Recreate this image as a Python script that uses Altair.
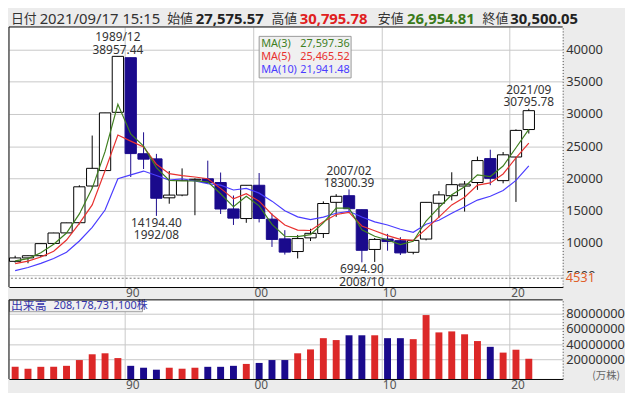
import altair as alt
import pandas as pd

# ---------------- data ----------------
years = list(range(1981, 2022))
opens = [7150, 7681, 8021, 9927, 11558, 13136, 18821, 21217, 30244, 38713,
         23827, 23030, 16994, 17421, 19724, 19945, 19364, 15268, 13779, 18937,
         13691, 10631, 8669, 10787, 11458, 16294, 17322, 15156, 8991, 10609,
         10352, 8549, 10604, 16148, 17325, 18818, 19364, 23074, 19656, 23319, 27575.57]
highs = [8019, 8026, 9893, 11577, 13129, 18936, 26646, 30159, 38957.44, 38713,
         27146, 23801, 21148, 21552, 20011, 22750, 20910, 17352, 18934, 20833,
         14556, 11979, 11238, 12195, 16445, 17563, 18300.39, 15156, 10767, 11408,
         10891, 10433, 16320, 18030, 20953, 19593, 23383, 24448, 24092, 27603, 30795.78]
lows = [6957, 6849, 7803, 9703, 11545, 12881, 18544, 21217, 30183, 20222,
        21456, 14194.40, 16078, 17242, 14295, 19161, 14488, 12787, 13122, 13182,
        9382, 8197, 7603, 10299, 10770, 14045, 14669, 6994.90, 7055, 8796,
        8136, 8238, 10399, 13885, 16593, 14864, 18225, 18949, 19241, 16358, 26954.81]
closes = [7681, 8016, 9893, 11542, 13113, 18701, 21564, 30159, 38916, 23848,
          22984, 16925, 17417, 19723, 19868, 19361, 15259, 13842, 18934, 13786,
          10543, 8579, 10677, 11489, 16111, 17226, 15308, 8860, 10546, 10229,
          8455, 10395, 16291, 17451, 19034, 19114, 22765, 20015, 23657, 27444, 30500.05]
ma3 = [7230, 7580, 8470, 9810, 11530, 14500, 18465, 24150, 31480, 26880,
       24995, 21680, 19700, 19600, 19600, 19460, 17620, 15600, 17230, 15750,
       12870, 11040, 10990, 11290, 13120, 15390, 15390, 12040, 11040, 10450,
       9750, 10250, 13400, 15500, 17470, 18720, 20540, 20290, 21920, 24750, 27597.36]
ma5 = [6800, 7180, 7820, 8710, 10450, 13020, 15900, 21180, 26730, 25784,
       24890, 22200, 20740, 20440, 20220, 19950, 18460, 16830, 17620, 16480,
       14410, 12780, 12000, 11930, 13270, 14410, 14750, 12630, 11890, 11140,
       10550, 10400, 12180, 14010, 15890, 17080, 18960, 19310, 20690, 23170, 25465.52]
ma10 = [5700, 6190, 6840, 7580, 8565, 10300, 12420, 15100, 19950, 20540,
        21140, 20450, 19750, 19950, 19600, 19200, 18960, 18210, 18460, 17720,
        16480, 15000, 14050, 13610, 14010, 14600, 14900, 14010, 13270, 12780,
        12130, 11640, 12900, 13520, 14600, 15600, 16640, 17230, 18120, 19700, 21941.48]
# volume in millions of axis units (万株)
volumes = [10.2, 7.7, 10.2, 10.2, 11.5, 19.1, 26.7, 28.0, 21.7, 11.5,
           9.0, 6.4, 9.0, 7.7, 9.0, 10.2, 10.2, 11.5, 14.0, 15.3,
           19.1, 19.1, 28.0, 33.1, 47.9, 45.4, 51.7, 51.7, 51.7, 47.9,
           47.9, 46.6, 78.3, 55.5, 56.8, 53.0, 44.1, 36.5, 28.9, 32.7, 20.8]

header_date = "2021/09/17 15:15"
vol_total = 208178731100
floor_value = 4531
high_marks = [(1989, "1989/12"), (2007, "2007/02"), (2021, "2021/09")]
low_marks = [(1992, "1992/08"), (2008, "2008/10")]
ma_names = ["MA(3)", "MA(5)", "MA(10)"]

# ---------------- styling ----------------
W, HM, HV = 560, 263, 80
XMIN, XMAX = 1981.0, 2024.12
YMIN, YMAX = 3170, 43470
VMIN, VMAX = -5.8e6, 98.3e6
GRID = "#c8c8c8"
NAVY = "#1a0a8c"
RED = "#dc2828"
BG = "#ececec"
C3, C5, C10 = "#3f7f1f", "#e8312f", "#4a3cff"
FONT = "Noto Sans, Noto Sans CJK JP, sans-serif"
JFONT = "Noto Sans CJK JP, Noto Sans, sans-serif"

df = pd.DataFrame({"year": years, "open": opens, "high": highs, "low": lows,
                   "close": closes, "ma3": ma3, "ma5": ma5, "ma10": ma10,
                   "vol": [v * 1e6 for v in volumes]})
df["dir"] = ["up" if c >= o else "down" for o, c in zip(opens, closes)]
df["c"] = df["year"] + 0.48
df["x1"] = df["year"] + 0.04
df["x2"] = df["year"] + 0.92
df["v1"] = df["c"] - 0.27
df["v2"] = df["c"] + 0.27

tops = pd.DataFrame({
    "c": [y + 0.48 for y, _ in high_marks],
    "v": [highs[years.index(y)] for y, _ in high_marks],
    "date": [d for _, d in high_marks],
})
tops["val"] = [f"{v:.2f}" for v in tops["v"]]
bots = pd.DataFrame({
    "c": [y + 0.48 for y, _ in low_marks],
    "v": [lows[years.index(y)] for y, _ in low_marks],
    "date": [d for _, d in low_marks],
})
bots["val"] = [f"{v:.2f}" for v in bots["v"]]
floor_df = pd.DataFrame({"v": [floor_value], "top": [5350]})
one = pd.DataFrame({"k": [0]})

xs = alt.Scale(domain=[XMIN, XMAX], nice=False, zero=False)
ys = alt.Scale(domain=[YMIN, YMAX], nice=False, zero=False)
vs = alt.Scale(domain=[VMIN, VMAX], nice=False, zero=False)

x_axis = alt.Axis(values=[1990, 2000, 2010, 2020],
                  labelExpr="substring(toString(datum.value), 2, 4)",
                  grid=True, gridColor=GRID, gridWidth=1, ticks=False, tickSize=0,
                  labelAlign="left", labelBaseline="top", labelOffset=1, labelPadding=1,
                  labelFontSize=12, labelColor="#555", labelFont=FONT,
                  domainColor="#000", domainWidth=1, labelFlush=False)
y_axis = alt.Axis(orient="right", values=list(range(5000, 40001, 5000)), format="d",
                  grid=True, gridColor=GRID, gridWidth=1, ticks=False, tickSize=0,
                  labelAlign="left", labelPadding=3, labelFontSize=13,
                  labelColor="#333", labelFont=FONT, domainDash=[1, 2],
                  domainColor="#444", labelFlush=False, labelOverlap=False)
v_axis = alt.Axis(orient="right", values=[2e7, 4e7, 6e7, 8e7], format="d",
                  grid=True, gridColor=GRID, gridWidth=1, ticks=False, tickSize=0,
                  labelAlign="left", labelPadding=3, labelFontSize=13,
                  labelColor="#333", labelFont=FONT, domainDash=[1, 2],
                  domainColor="#444", labelFlush=False, labelOverlap=False)


def X(f):
    return alt.X(f, type="quantitative", scale=xs, axis=x_axis, title=None)


def Y(f):
    return alt.Y(f, type="quantitative", scale=ys, axis=y_axis, title=None)


def VY(f):
    return alt.Y(f, type="quantitative", scale=vs, axis=v_axis, title=None)


dir_dom = ["up", "down"]
base = alt.Chart(df)

wicks = base.mark_rule(strokeWidth=1).encode(
    x=X("c"), y=Y("low"), y2="high",
    color=alt.Color("dir:N", scale=alt.Scale(domain=dir_dom, range=["#000000", NAVY]), legend=None))
bodies = base.mark_rect(strokeWidth=1).encode(
    x=X("x1"), x2="x2", y=Y("open"), y2="close",
    fill=alt.Fill("dir:N", scale=alt.Scale(domain=dir_dom, range=["#ffffff", NAVY]), legend=None),
    stroke=alt.Stroke("dir:N", scale=alt.Scale(domain=dir_dom, range=["#000000", NAVY]), legend=None))
l10 = base.mark_line(strokeWidth=1.2, color=C10).encode(x=X("c"), y=Y("ma10"))
l5 = base.mark_line(strokeWidth=1.2, color=C5).encode(x=X("c"), y=Y("ma5"))
l3 = base.mark_line(strokeWidth=1.2, color=C3).encode(x=X("c"), y=Y("ma3"))

floor_rule = alt.Chart(floor_df).mark_rule(color="#777", strokeDash=[2, 2]).encode(y=Y("v"))
floor_cover = alt.Chart(floor_df).mark_rect(fill=BG).encode(
    x=alt.value(W + 1), x2=alt.value(W + 48), y=Y("top"), y2=alt.value(HM - 0.5))
floor_text = alt.Chart(floor_df).mark_text(
    align="left", baseline="middle", color="#e0602a", fontSize=13, font=FONT).encode(
    x=alt.value(W + 3), y=Y("v"), text=alt.Text("v:Q", format="d"))

ann_kw = dict(fontSize=12, font=FONT, color="#333", baseline="middle", align="center")
t_val = alt.Chart(tops).mark_text(dy=-6.5, **ann_kw).encode(x=X("c"), y=Y("v"), text="val:N")
t_date = alt.Chart(tops).mark_text(dy=-19, **ann_kw).encode(x=X("c"), y=Y("v"), text="date:N")
b_val = alt.Chart(bots).mark_text(dy=7, **ann_kw).encode(x=X("c"), y=Y("v"), text="val:N")
b_date = alt.Chart(bots).mark_text(dy=19.5, **ann_kw).encode(x=X("c"), y=Y("v"), text="date:N")

# MA legend box
leg_box = alt.Chart(one).mark_rect(fill="#f0f0f0", stroke="#999", strokeWidth=1).encode(
    x=alt.value(253), x2=alt.value(346), y=alt.value(9.5), y2=alt.value(51.5))
leg_layers = [leg_box]
for name, val, col, yy in zip(ma_names, [ma3[-1], ma5[-1], ma10[-1]], [C3, C5, C10],
                              [17, 30.5, 44]):
    leg_layers.append(alt.Chart(one).mark_text(
        text=name, align="left", baseline="middle", fontSize=11, font=FONT, color=col).encode(
        x=alt.value(255), y=alt.value(yy)))
    leg_layers.append(alt.Chart(one).mark_text(
        text=f"{val:,.2f}", align="right", baseline="middle", fontSize=11, font=FONT, color=col).encode(
        x=alt.value(344.5), y=alt.value(yy)))

# header
HY = -8
header_items = [
    ("日付", 2, JFONT, 13, "normal", "#333"),
    (header_date, 31, FONT, 15, "normal", "#333"),
    ("始値", 160, JFONT, 13, "normal", "#333"),
    (f"{opens[-1]:,.2f}", 189, FONT, 15, "bold", "#222"),
    ("高値", 265.5, JFONT, 13, "normal", "#333"),
    (f"{highs[-1]:,.2f}", 294, FONT, 15, "bold", "#e02020"),
    ("安値", 373, JFONT, 13, "normal", "#333"),
    (f"{lows[-1]:,.2f}", 402.5, FONT, 15, "bold", "#3a7a1a"),
    ("終値", 479, JFONT, 13, "normal", "#333"),
    (f"{closes[-1]:,.2f}", 507, FONT, 15, "bold", "#222"),
]
head_layers = []
for txt, xx, fnt, fs, fw, col in header_items:
    head_layers.append(alt.Chart(one).mark_text(
        text=txt, align="left", baseline="middle", font=fnt, fontSize=fs,
        fontWeight=fw, color=col).encode(x=alt.value(xx), y=alt.value(HY)))

border_top = alt.Chart(one).mark_rule(color="#000").encode(
    x=alt.value(0), x2=alt.value(W), y=alt.value(0))
border_left = alt.Chart(one).mark_rule(color="#000").encode(
    x=alt.value(0), y=alt.value(0), y2=alt.value(HM))

main = alt.layer(
    wicks, bodies, floor_rule, l10, l5, l3,
    t_val, t_date, b_val, b_date,
    floor_cover, floor_text,
    *leg_layers, *head_layers, border_top, border_left
).properties(width=W, height=HM)

# volume panel
vbars = base.mark_rect().encode(
    x=X("v1"), x2="v2", y=VY("vol"), y2=alt.value(HV),
    color=alt.Color("dir:N", scale=alt.Scale(domain=dir_dom, range=[RED, NAVY]), legend=None))
vbox = alt.Chart(one).mark_rect(fill="#f0f0f0", stroke="#999", strokeWidth=1).encode(
    x=alt.value(0.5), x2=alt.value(135), y=alt.value(0.5), y2=alt.value(12))
vlab1 = alt.Chart(one).mark_text(
    text="出来高", align="left", baseline="middle", font=JFONT, fontSize=12, color="#3333aa").encode(
    x=alt.value(2), y=alt.value(6.5))
vlab2 = alt.Chart(one).mark_text(
    text=f"{vol_total:,}株", align="left", baseline="middle", font=FONT, fontSize=11,
    color="#3333aa").encode(x=alt.value(45), y=alt.value(6.5))
vunit = alt.Chart(one).mark_text(
    text="(万株)", align="right", baseline="middle", font=JFONT, fontSize=10.5, color="#666").encode(
    x=alt.value(W + 58), y=alt.value(HV - 3))
vborder_top = alt.Chart(one).mark_rule(color="#000").encode(
    x=alt.value(0), x2=alt.value(W), y=alt.value(0))
vborder_left = alt.Chart(one).mark_rule(color="#000").encode(
    x=alt.value(0), y=alt.value(0), y2=alt.value(HV))

vol = alt.layer(vbars, vbox, vlab1, vlab2, vunit, vborder_top, vborder_left).properties(
    width=W, height=HV)

chart = alt.vconcat(main, vol, spacing=0).resolve_scale(
    color="independent", fill="independent", stroke="independent"
).properties(
    padding={"top": 2, "left": 0, "right": 0, "bottom": 0}, background=BG
).configure_view(fill="white", stroke=None)

chart.save("out.html", embed_options={"renderer": "svg", "actions": False})
